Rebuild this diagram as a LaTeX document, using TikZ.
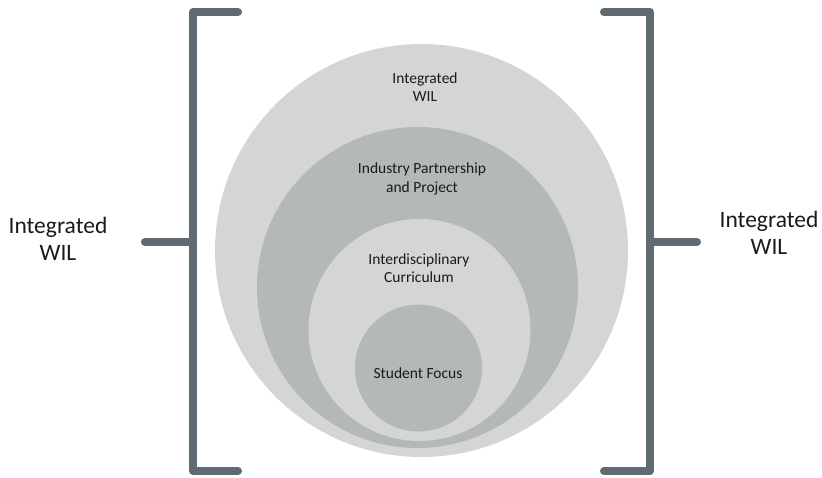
\documentclass[tikz,border=0pt]{standalone}
\usepackage{fontspec}
\setmainfont{Carlito}
\definecolor{bracketgray}{HTML}{5F6B70}
\definecolor{ringlight}{HTML}{D5D5D5}
\definecolor{ringdark}{HTML}{B3B9B9}
\definecolor{labeltext}{HTML}{1A1A1A}
\tikzset{
  ring/.style={circle, inner sep=0pt, draw=none},
  bracketline/.style={draw=bracketgray, line width=8pt, line cap=round, line join=round},
  innerlabel/.style={align=center, text=labeltext, font=\fontsize{15.5}{18.5}\selectfont},
  sidelabel/.style={align=center, text=labeltext, font=\fontsize{23.5}{27}\selectfont}
}
\begin{document}
\begin{tikzpicture}[x=1pt, y=-1pt]
            \useasboundingbox (0,0) rectangle (822,477);
            % Rings
            \node[ring, fill=ringlight, minimum size=413pt] (wil) at (421.5,250.5) {};
            \node[ring, fill=ringdark, minimum size=321pt] (partner) at (417.5,287.5) {};
            \node[ring, fill=ringlight, minimum size=222pt] (curric) at (419.5,330) {};
            \node[ring, fill=ringdark, minimum size=127pt] (student) at (418.5,368) {};

            % Ring labels
            \node[innerlabel] (wiltext) at (425,87) {Integrated\\WIL};
            \node[innerlabel] (partnertext) at (422,179) {Industry Partnership\\and Project};
            \node[innerlabel] (currictext) at (419,268) {Interdisciplinary\\Curriculum};
            \node[innerlabel] (studenttext) at (418,373) {Student Focus};

            % Bracket corners
            \coordinate (lt) at (193,12);
            \coordinate (ltend) at (238,12);
            \coordinate (lb) at (193,471);
            \coordinate (lbend) at (238,471);
            \coordinate (lm) at (193,242);
            \coordinate (lmend) at (145,242);
            \coordinate (rt) at (650,12);
            \coordinate (rtend) at (604,12);
            \coordinate (rb) at (650,471);
            \coordinate (rbend) at (604,471);
            \coordinate (rm) at (650,242);
            \coordinate (rmend) at (697,242);

            % Side labels
            \node[sidelabel] (lefttext) at (58,239) {Integrated\\WIL};
            \node[sidelabel] (righttext) at (769,233) {Integrated\\WIL};

            % Brackets
            \draw[bracketline] (ltend) -- (lt) -- (lb) -- (lbend);
            \draw[bracketline] (lm) -- (lmend);
            \draw[bracketline] (rtend) -- (rt) -- (rb) -- (rbend);
            \draw[bracketline] (rm) -- (rmend);
\end{tikzpicture}
\end{document}
